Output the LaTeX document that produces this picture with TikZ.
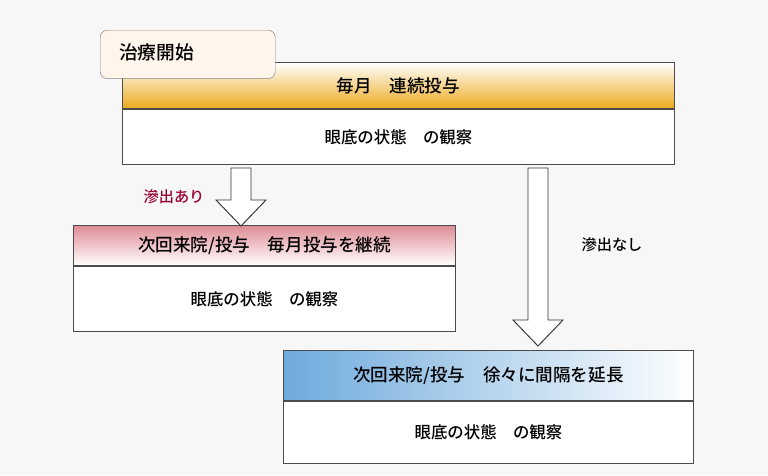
\documentclass[tikz,border=0pt]{standalone}
\usepackage{fontspec}
\newfontfamily\jp{Noto Sans CJK JP Medium}
\usetikzlibrary{calc,positioning}
\definecolor{gold}{RGB}{236,170,30}
\definecolor{rose}{RGB}{222,140,150}
\definecolor{sky}{RGB}{110,170,220}
\tikzset{
  hdr/.style={draw=black!70, thick, minimum height=1.38cm, inner sep=0pt,
    font=\jp\fontsize{15}{18}\selectfont},
  body/.style={draw=black!70, thick, fill=white, minimum height=1.8cm, inner sep=0pt,
    font=\jp\fontsize{14}{17}\selectfont},
  blockarrow/.style={draw=black!80, thick, fill=white, line join=miter},
  tag/.style={font=\jp\fontsize{13}{16}\selectfont}
}
\newcommand\hollowarrow[2]{% top coordinate, tip coordinate
  \draw[blockarrow] ($#1+(-10,0)$) -- ($#1+(10,0)$) -- ($#2+(10,-26)$) -- ($#2+(25,-26)$)
    -- #2 -- ($#2+(-25,-26)$) -- ($#2+(-10,-26)$) -- cycle;}
\begin{document}
\begin{tikzpicture}[x=0.03cm,y=-0.03cm]
  \useasboundingbox[fill=black!3] (0,0) rectangle (768,475);
  % top block
  \node[hdr, minimum width=16.56cm, top color=white, bottom color=gold, anchor=north west]
    (monthly) at (122,62) {毎月\quad 連続投与};
  \node[body, minimum width=16.56cm, minimum height=1.65cm, below=0pt of monthly] (obs1) {眼底の状態\quad の観察};
  \node[draw=black!50, fill=orange!8, rounded corners=6pt, minimum width=5.25cm, minimum height=1.45cm,
    anchor=north west] (start) at (100,30) {};
  \node[font=\jp\fontsize{16}{19}\selectfont, anchor=west] at ($(start.north west)+(15,22)$) {治療開始};
  % left block
  \node[hdr, minimum width=11.46cm, minimum height=1.2cm, top color=rose, bottom color=white, anchor=north west]
    (cont) at (73,225) {次回来院/投与\quad 毎月投与を継続};
  \node[body, minimum width=11.46cm, minimum height=1.95cm, below=0pt of cont] (obs2) {眼底の状態\quad の観察};
  % right block
  \node[hdr, minimum width=12.3cm, minimum height=1.5cm, left color=sky, right color=white, anchor=north west]
    (extend) at (283,350) {次回来院/投与\quad 徐々に間隔を延長};
  \node[body, minimum width=12.3cm, minimum height=1.86cm, below=0pt of extend] (obs3) {眼底の状態\quad の観察};
  % arrows
  \coordinate (a1) at (241,168); \coordinate (t1) at (241,226);
  \coordinate (a2) at (538,168); \coordinate (t2) at (538,346);
  \hollowarrow{(a1)}{(t1)}
  \hollowarrow{(a2)}{(t2)}
  \node[tag, text=purple!80!black] at (174,197) {滲出あり};
  \node[tag] at (612,245) {滲出なし};
\end{tikzpicture}
\end{document}
